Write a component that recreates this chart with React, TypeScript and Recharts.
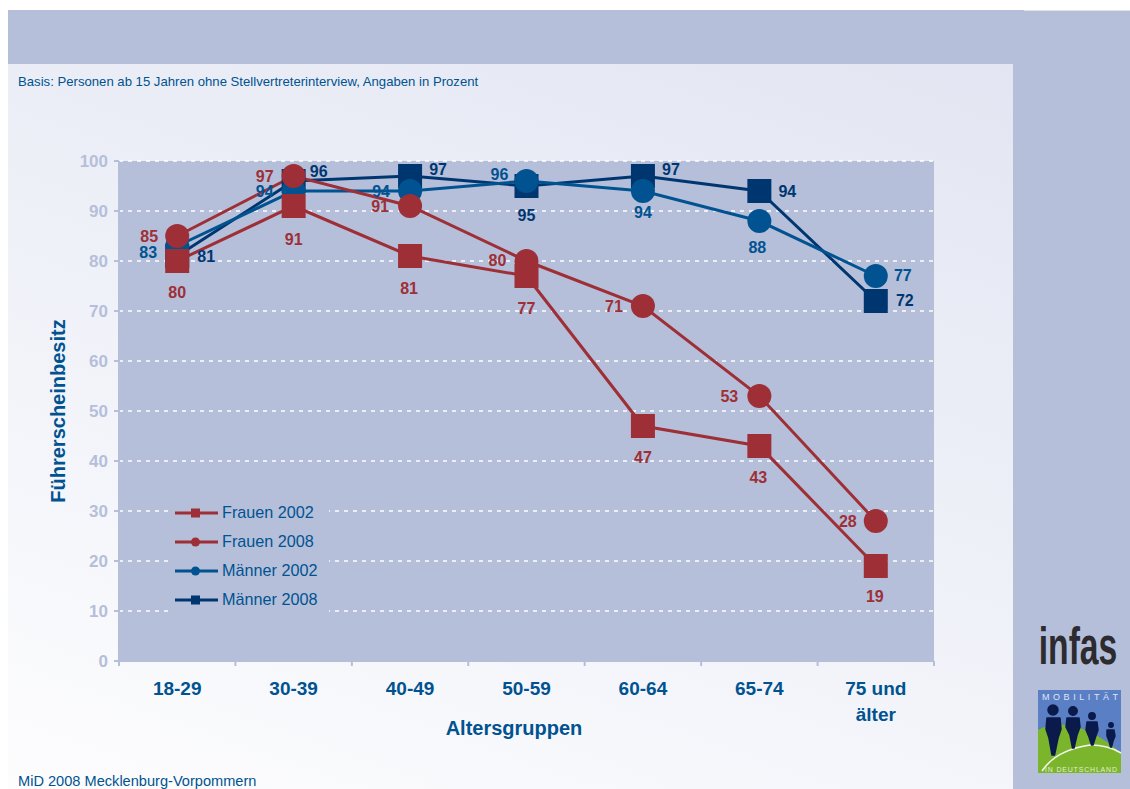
import React from "react";
import { LineChart, Line, XAxis, YAxis, CartesianGrid, Legend, LabelList, Label } from "recharts";

const ageGroups = ["18-29", "30-39", "40-49", "50-59", "60-64", "65-74", "75 und älter"];
const frauen2002 = [80, 91, 81, 77, 47, 43, 19];
const frauen2008 = [85, 97, 91, 80, 71, 53, 28];
const maenner2002 = [83, 94, 94, 96, 94, 88, 77];
const maenner2008 = [81, 96, 97, 95, 97, 94, 72];
const yTicks = [0, 10, 20, 30, 40, 50, 60, 70, 80, 90, 100];

const RED = "#9e2f36";
const BLUE = "#005390";
const NAVY = "#003670";
const PALE = "#b5bfda";

const WIDTH = 1130;
const HEIGHT = 789;
const PLOT_LEFT = 119;
const PLOT_RIGHT = 934;
const PLOT_TOP = 161;
const PLOT_BOTTOM = 661;
const BAND = (PLOT_RIGHT - PLOT_LEFT) / ageGroups.length;

// label offsets from each point, [dx, dy]
const frauen2002Offsets = [[0, 31], [0, 33], [-1, 32], [0, 32], [0, 31], [-1, 31], [-1, 30]];
const frauen2008Offsets = [[-28, 0], [-29, 0], [-30, 0], [-29, -1], [-29, 0], [-30, 0], [-28, 0]];
const maenner2002Offsets = [[-29, 6], [-29, 0], [-29, 0], [-27, -7], [0, 21], [-2, 26], [27, -1]];
const maenner2008Offsets = [[29, 0], [25, -10], [28, -7], [0, 29], [28, -7], [28, 0], [29, -1]];

const rows = ageGroups.map((group, i) => ({
  group,
  frauen2002: frauen2002[i],
  frauen2008: frauen2008[i],
  maenner2002: maenner2002[i],
  maenner2008: maenner2008[i],
}));

const legendItems = [
  { name: "Frauen 2002", color: RED, square: true },
  { name: "Frauen 2008", color: RED, square: false },
  { name: "Männer 2002", color: BLUE, square: false },
  { name: "Männer 2008", color: NAVY, square: true },
];

const SquareDot = (props: any) => {
  const { cx, cy, fill, index } = props;
  return <rect key={index} x={cx - 12} y={cy - 12} width={24} height={24} fill={fill} />;
};

const pointLabel = (offsets: number[][], color: string) => (props: any) => {
  const { x, y, value, index } = props;
  return (
    <text
      x={x + offsets[index][0]}
      y={y + offsets[index][1]}
      fill={color}
      fontSize={16}
      fontWeight="bold"
      textAnchor="middle"
      dominantBaseline="central"
    >
      {value}
    </text>
  );
};

// Tick marks sit between the groups, so they are drawn here instead of by the axis
const AgeTick = (props: any) => {
  const { x, y, payload, index } = props;
  const parts = payload.value === "75 und älter" ? ["75 und", "älter"] : [payload.value];
  return (
    <g>
      <line x1={x - BAND / 2} x2={x - BAND / 2} y1={PLOT_BOTTOM} y2={PLOT_BOTTOM + 5} stroke={PALE} strokeWidth={2} />
      {index === ageGroups.length - 1 && (
        <line x1={x + BAND / 2} x2={x + BAND / 2} y1={PLOT_BOTTOM} y2={PLOT_BOTTOM + 5} stroke={PALE} strokeWidth={2} />
      )}
      <text x={x} y={y} fill={BLUE} fontSize={19} fontWeight="bold" textAnchor="middle">
        {parts.map((part: string, i: number) => (
          <tspan key={part} x={x} y={PLOT_BOTTOM + 34 + i * 26}>
            {part}
          </tspan>
        ))}
      </text>
    </g>
  );
};

const ChartLegend = () => (
  <div style={{ background: PALE, width: 160, height: 116, position: "relative" }}>
    {legendItems.map((item, i) => (
      <div
        key={item.name}
        style={{ position: "absolute", left: 6, top: i * 29, height: 29, display: "flex", alignItems: "center" }}
      >
        <svg width={43} height={12} style={{ marginRight: 4 }}>
          <line x1={0} x2={43} y1={6} y2={6} stroke={item.color} strokeWidth={3} />
          {item.square ? (
            <rect x={16} y={1.5} width={9} height={9} fill={item.color} />
          ) : (
            <circle cx={20.5} cy={6} r={4.5} fill={item.color} />
          )}
        </svg>
        <span style={{ color: BLUE, fontSize: 16.2, whiteSpace: "nowrap" }}>{item.name}</span>
      </div>
    ))}
  </div>
);

const Logos = () => (
  <svg width={WIDTH} height={HEIGHT} style={{ position: "absolute", left: 0, top: 0 }}>
    {/* No condensed face is installed, so the wordmark is squeezed horizontally */}
    <text
      transform="translate(1078 664) scale(0.66 1)"
      fontFamily="'Liberation Sans', sans-serif"
      fontWeight="bold"
      fontSize={51}
      fill="#2b2b30"
      textAnchor="middle"
    >
      infas
    </text>
    <rect x={1038} y={690} width={83} height={83} fill="#5b7fc4" />
    <path d="M1038 773 L1038 730 Q1060 718 1090 732 Q1108 741 1121 753 L1121 773 Z" fill="#7ab52b" />
    <path d="M1042 771 Q1056 750 1090 745 Q1108 745 1121 753" fill="none" stroke="#f2f6ea" strokeWidth={1.5} />
    <g fill="#0a1a4a" stroke="#0a1a4a" strokeWidth={1.5} strokeLinejoin="round">
      <circle cx={1053} cy={710} r={5} />
      <path d="M1047 718 H1060 L1061 729 L1058 738 L1054.5 755 H1052 L1049 738 L1046 729 Z" />
      <circle cx={1073} cy={711} r={4.2} />
      <path d="M1067 718 H1079 L1080 727 L1077 735 L1074 748 H1072.5 L1070 735 L1066 727 Z" />
      <circle cx={1092} cy={716} r={3.2} />
      <path d="M1087 722 H1097 L1098 730 L1095.5 737 L1093 745 H1091.5 L1089 737 L1086 730 Z" />
      <circle cx={1111} cy={725} r={2.2} />
      <path d="M1107 730 H1114 L1115 736 L1113 741 L1111.5 747 H1110.5 L1109 741 L1107 736 Z" />
    </g>
    <text x={1080} y={700} fontSize={9} fill="#dfe6f5" textAnchor="middle" textLength={76}>
      MOBILITÄT
    </text>
    <text x={1081} y={772} fontSize={7} fill="#e4eed0" textAnchor="middle" textLength={72}>
      IN DEUTSCHLAND
    </text>
  </svg>
);

export default function App() {
  return (
    <div
      style={{
        position: "absolute",
        left: 0,
        top: 0,
        width: WIDTH,
        height: HEIGHT,
        overflow: "hidden",
        background: "#fff",
        fontFamily: "'Liberation Sans', Arial, sans-serif",
      }}
    >
      {/* Header strip, right-hand strip and the graded slide panel */}
      <div style={{ position: "absolute", left: 8, top: 10, width: 1122, height: 54, background: PALE }} />
      <div style={{ position: "absolute", left: 1024, top: 10, width: 106, height: 1, background: "#dfe2ea" }} />
      <div style={{ position: "absolute", left: 1013, top: 64, width: 117, height: 725, background: PALE }} />
      <div
        style={{
          position: "absolute",
          left: 8,
          top: 64,
          width: 1005,
          height: 725,
          background: "linear-gradient(200deg, #e3e6f2 0%, #eef0f8 45%, #fdfdfe 100%)",
        }}
      />
      <div style={{ position: "absolute", left: 18, top: 74, fontSize: 13.15, color: BLUE, whiteSpace: "nowrap" }}>
        Basis: Personen ab 15 Jahren ohne Stellvertreterinterview, Angaben in Prozent
      </div>
      <div style={{ position: "absolute", left: 18, top: 773, fontSize: 14.6, color: BLUE, whiteSpace: "nowrap" }}>
        MiD 2008 Mecklenburg-Vorpommern
      </div>
      <Logos />
      <div style={{ position: "absolute", left: 0, top: 0 }}>
        <LineChart
          width={WIDTH}
          height={HEIGHT}
          data={rows}
          margin={{ top: PLOT_TOP, right: WIDTH - PLOT_RIGHT, bottom: 0, left: 0 }}
        >
          <CartesianGrid
            vertical={false}
            fill={PALE}
            stroke="#ffffff"
            strokeWidth={1.6}
            strokeDasharray="4 5"
            fillOpacity={1}
          />
          <XAxis
            dataKey="group"
            scale="band"
            interval={0}
            height={HEIGHT - PLOT_BOTTOM}
            tick={<AgeTick />}
            tickLine={false}
            axisLine={{ stroke: PALE, strokeWidth: 2 }}
          >
            <Label
              value="Altersgruppen"
              content={() => (
                <text x={514} y={735} fill={BLUE} fontSize={20} fontWeight="bold" textAnchor="middle">
                  Altersgruppen
                </text>
              )}
            />
          </XAxis>
          <YAxis
            domain={[0, 100]}
            ticks={yTicks}
            width={PLOT_LEFT}
            interval={0}
            tick={{ fill: PALE, fontSize: 17, fontWeight: "bold" }}
            tickLine={{ stroke: PALE, strokeWidth: 2 }}
            tickSize={5}
            tickMargin={6}
            axisLine={{ stroke: PALE, strokeWidth: 2 }}
          >
            <Label
              value="Führerscheinbesitz"
              content={() => (
                <text
                  transform="translate(58 411) rotate(-90)"
                  fill={BLUE}
                  fontSize={20}
                  fontWeight="bold"
                  textAnchor="middle"
                  dominantBaseline="central"
                >
                  Führerscheinbesitz
                </text>
              )}
            />
          </YAxis>
          {/* Centered vertical legend reserves no room, so the plot keeps its full height */}
          <Legend
            content={<ChartLegend />}
            layout="vertical"
            align="center"
            verticalAlign="middle"
            wrapperStyle={{ left: 169, top: 498, width: 160, height: 116 }}
          />
          <Line
            dataKey="maenner2008"
            name="Männer 2008"
            stroke={NAVY}
            fill={NAVY}
            strokeWidth={3}
            dot={<SquareDot />}
            isAnimationActive={false}
          >
            <LabelList dataKey="maenner2008" content={pointLabel(maenner2008Offsets, NAVY)} />
          </Line>
          <Line
            dataKey="maenner2002"
            name="Männer 2002"
            stroke={BLUE}
            fill={BLUE}
            strokeWidth={3}
            dot={{ r: 12, fill: BLUE, stroke: "none" }}
            isAnimationActive={false}
          >
            <LabelList dataKey="maenner2002" content={pointLabel(maenner2002Offsets, BLUE)} />
          </Line>
          <Line
            dataKey="frauen2002"
            name="Frauen 2002"
            stroke={RED}
            fill={RED}
            strokeWidth={3}
            dot={<SquareDot />}
            isAnimationActive={false}
          >
            <LabelList dataKey="frauen2002" content={pointLabel(frauen2002Offsets, RED)} />
          </Line>
          <Line
            dataKey="frauen2008"
            name="Frauen 2008"
            stroke={RED}
            fill={RED}
            strokeWidth={3}
            dot={{ r: 12, fill: RED, stroke: "none" }}
            isAnimationActive={false}
          >
            <LabelList dataKey="frauen2008" content={pointLabel(frauen2008Offsets, RED)} />
          </Line>
        </LineChart>
      </div>
    </div>
  );
}
